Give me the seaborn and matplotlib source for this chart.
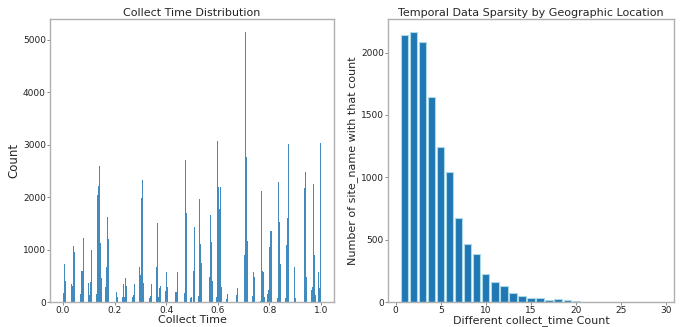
import matplotlib
matplotlib.use("Agg")
import matplotlib.pyplot as plt
import numpy as np
import seaborn as sns

# left panel: collect_time values (normalised) and how many rows sit at each
collect_times = [
    0.002, 0.006, 0.010,
    0.034, 0.038, 0.042, 0.046,
    0.070, 0.074, 0.078,
    0.098, 0.102, 0.106, 0.110,
    0.130, 0.134, 0.138, 0.142, 0.146, 0.150,
    0.166, 0.170, 0.174, 0.178,
    0.206, 0.210,
    0.230, 0.234, 0.238, 0.242, 0.246,
    0.270, 0.274, 0.278,
    0.298, 0.302, 0.306, 0.310, 0.314,
    0.334, 0.338, 0.342,
    0.362, 0.366, 0.370, 0.374, 0.378,
    0.398, 0.402, 0.406,
    0.438, 0.442,
    0.470, 0.474, 0.478,
    0.494, 0.498, 0.506, 0.510,
    0.526, 0.530, 0.534, 0.538,
    0.566, 0.570, 0.574, 0.578,
    0.594, 0.598, 0.602, 0.606, 0.610, 0.614,
    0.634, 0.638,
    0.674, 0.678,
    0.702, 0.706, 0.710, 0.714,
    0.734, 0.738, 0.742,
    0.766, 0.770, 0.774, 0.778, 0.782,
    0.794, 0.798, 0.802, 0.806,
    0.830, 0.834, 0.838, 0.842,
    0.862, 0.866, 0.870, 0.874,
    0.898, 0.902,
    0.934, 0.938, 0.942,
    0.962, 0.966, 0.970, 0.974, 0.978,
    0.990, 0.994, 0.998,
]
collect_counts = [
    170, 720, 400,
    350, 310, 1060, 960,
    150, 590, 1230,
    360, 130, 380, 1000,
    160, 2040, 2220, 2600, 1120, 460,
    280, 670, 1630, 1200,
    190, 90,
    90, 340, 100, 450, 310,
    100, 130, 350,
    660, 520, 1980, 2320, 360,
    80, 110, 350,
    670, 1500, 90, 270, 310,
    210, 580, 280,
    190, 570,
    170, 2700, 1690,
    80, 90, 590, 1440,
    110, 1970, 1100, 740,
    470, 1650, 1140, 400,
    100, 3080, 2200, 1780, 2190, 280,
    50, 150,
    130, 270,
    900, 5150, 2760, 1170,
    110, 580, 480,
    20, 2110, 600, 580, 100,
    160, 230, 1040, 1360,
    70, 2280, 1530, 730,
    80, 1080, 1610, 3020,
    660, 80,
    2170, 2480, 470,
    230, 280, 2260, 890, 140,
    570, 270, 3040,
]

# right panel: number of distinct collect_time values per site_name
distinct_counts = list(range(1, 30))
site_counts = [
    2140, 2165, 2085, 1640, 1240, 1045, 670, 465, 385, 225,
    160, 130, 75, 50, 35, 30, 18, 25, 18, 8,
    4, 3, 2, 2, 2, 1, 1, 1, 1,
]

sns.set_style("white")

fig, (ax1, ax2) = plt.subplots(1, 2, figsize=(6.8, 3.27), dpi=100)
ax1.set_position([50 / 680, 25 / 327, 284 / 680, 283.5 / 327])
ax2.set_position([388 / 680, 25 / 327, 286 / 680, 283.5 / 327])

sns.histplot(x=collect_times, weights=collect_counts, bins=250,
             binrange=(0, 1), color="#1f77b4", alpha=0.85,
             linewidth=0, ax=ax1)
ax1.set_title("Collect Time Distribution", fontsize=8, pad=2)
ax1.set_xlabel("Collect Time", fontsize=8, labelpad=0)
ax1.set_ylabel("Count", fontsize=8.5, labelpad=2)

sns.barplot(x=distinct_counts, y=site_counts, native_scale=True,
            color="#1f77b4", saturation=1, edgecolor="lightblue",
            linewidth=0.8, errorbar=None, ax=ax2)
ax2.set_xticks([0, 5, 10, 15, 20, 25, 30])
ax2.set_title("Temporal Data Sparsity by Geographic Location", fontsize=8, pad=2)
ax2.set_xlabel("Different collect_time Count", fontsize=8, labelpad=0)
ax2.set_ylabel("Number of site_name with that count", fontsize=8, labelpad=2)

for ax in (ax1, ax2):
    ax.tick_params(labelsize=6.5, length=2, width=0.6, color="#777777",
                   labelcolor="#222222", bottom=True, left=True, pad=1)
    for s in ax.spines.values():
        s.set_color("#b0b0b0")
        s.set_linewidth(1)

fig.savefig("out.png", dpi=100)
